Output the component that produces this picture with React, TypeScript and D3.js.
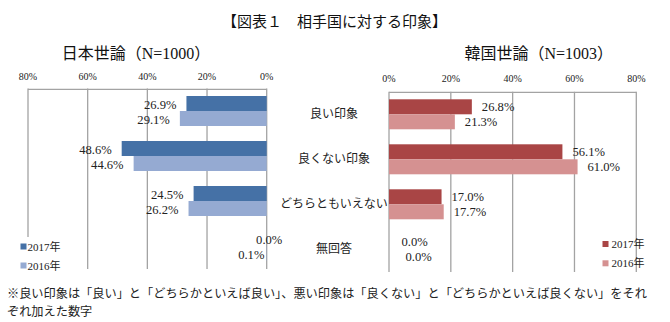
import React from "react";
import * as d3 from "d3";

const title = "【図表１　相手国に対する印象】";
const leftTitle = "日本世論（N=1000）";
const rightTitle = "韓国世論（N=1003）";
const categories = ["良い印象", "良くない印象", "どちらともいえない", "無回答"];
const japan2017 = [26.9, 48.6, 24.5, 0.0];
const japan2016 = [29.1, 44.6, 26.2, 0.1];
const korea2017 = [26.8, 56.1, 17.0, 0.0];
const korea2016 = [21.3, 61.0, 17.7, 0.0];
const tickValues = [0, 20, 40, 60, 80];
const years = ["2017年", "2016年"];
const footnote1 = "※良い印象は「良い」と「どちらかといえば良い」、悪い印象は「良くない」と「どちらかといえば良くない」をそれ";
const footnote2 = "ぞれ加えた数字";

const W = 670;
const H = 322;
const FONT = "'Liberation Serif', 'Noto Sans CJK JP', serif";
const CJK = "'Noto Sans CJK JP', sans-serif";
const GRID = "#A3A3A3";
const blue17 = "#4571A6";
const blue16 = "#95AAD2";
const red17 = "#A94545";
const red16 = "#D59191";

const fmt = (v: number) => d3.format(".1f")(v) + "%";

export default function App() {
  const xL = d3.scaleLinear().domain([0, 80]).range([266.7, 28]);
  const xR = d3.scaleLinear().domain([0, 80]).range([389, 636.3]);
  const yL = d3.scaleBand().domain(categories).range([88.5, 268.5]).paddingInner(1 / 3).paddingOuter(1 / 6);
  const yR = d3.scaleBand().domain(categories).range([91.8, 271.8]).paddingInner(1 / 3).paddingOuter(1 / 6);
  const bw = yL.bandwidth() / 2;

  const leftSeries = [
    { vals: japan2017, color: blue17 },
    { vals: japan2016, color: blue16 },
  ];
  const rightSeries = [
    { vals: korea2017, color: red17 },
    { vals: korea2016, color: red16 },
  ];

  const leftLabel = (ci: number, si: number, v: number) => {
    const end = xL(v);
    if (categories[ci] === "無回答") {
      return si === 0
        ? { x: xL(0) + 2.5, anchor: "middle" }
        : { x: end - 2, anchor: "end" };
    }
    return { x: end - 10, anchor: "end" };
  };
  const rightLabel = (ci: number, si: number, v: number) => {
    const end = xR(v);
    if (categories[ci] === "無回答") {
      return { x: end + (si === 0 ? 12.5 : 16.5), anchor: "start" };
    }
    return { x: end + 10, anchor: "start" };
  };

  return (
    <svg
      width={W}
      height={H}
      style={{ position: "absolute", left: 0, top: 0, display: "block", background: "#fff" }}
    >
      <rect x={0} y={0} width={W} height={H} fill="#fff" />
      <text x={334.5} y={20.7} textAnchor="middle" dominantBaseline="central" fontFamily={CJK} fontSize={15} fill="#111">
        {title}
      </text>
      <text x={136} y={53} textAnchor="middle" dominantBaseline="central" fontFamily={FONT} fontSize={16} fill="#111">
        {leftTitle}
      </text>
      <text x={538.7} y={53} textAnchor="middle" dominantBaseline="central" fontFamily={FONT} fontSize={16} fill="#111">
        {rightTitle}
      </text>

      {/* Left grid */}
      <g>
        {tickValues.map((t) => (
          <g key={"lt" + t}>
            <line x1={xL(t)} x2={xL(t)} y1={88.5} y2={269} stroke={GRID} strokeWidth={1.3} />
            <text x={xL(t)} y={76.7} textAnchor="middle" dominantBaseline="central" fontFamily={FONT} fontSize={10} fill="#222">
              {t + "%"}
            </text>
          </g>
        ))}
        <line x1={xL(80)} x2={xL(0)} y1={89.3} y2={89.3} stroke={GRID} strokeWidth={1.3} />
      </g>
      {/* Right grid */}
      <g>
        {tickValues.map((t) => (
          <g key={"rt" + t}>
            <line x1={xR(t)} x2={xR(t)} y1={91.8} y2={272} stroke={GRID} strokeWidth={1.3} />
            <text x={xR(t)} y={78.3} textAnchor="middle" dominantBaseline="central" fontFamily={FONT} fontSize={10} fill="#222">
              {t + "%"}
            </text>
          </g>
        ))}
        <line x1={xR(0)} x2={xR(80)} y1={92.3} y2={92.3} stroke={GRID} strokeWidth={1.3} />
      </g>

      {/* Left bars */}
      {leftSeries.map((s, si) =>
        categories.map((c, ci) => {
          const v = s.vals[ci];
          const y0 = (yL(c) as number) + si * bw;
          const lab = leftLabel(ci, si, v);
          return (
            <g key={"lb" + si + ci}>
              {v > 0 && (
                <rect x={xL(v)} y={y0} width={xL(0) - xL(v)} height={bw} fill={s.color} />
              )}
              <text x={lab.x} y={y0 + bw / 2 + 1} textAnchor={lab.anchor} dominantBaseline="central" fontFamily={FONT} fontSize={12.6} fill="#222">
                {fmt(v)}
              </text>
            </g>
          );
        })
      )}

      {/* Right bars */}
      {rightSeries.map((s, si) =>
        categories.map((c, ci) => {
          const v = s.vals[ci];
          const y0 = (yR(c) as number) + si * bw;
          const lab = rightLabel(ci, si, v);
          return (
            <g key={"rb" + si + ci}>
              {v > 0 && (
                <rect x={xR(0)} y={y0} width={xR(v) - xR(0)} height={bw} fill={s.color} />
              )}
              <text x={lab.x} y={y0 + bw / 2} textAnchor={lab.anchor} dominantBaseline="central" fontFamily={FONT} fontSize={12.6} fill="#222">
                {fmt(v)}
              </text>
            </g>
          );
        })
      )}

      {/* Category labels */}
      {categories.map((c) => (
        <text key={"cat" + c} x={334} y={(yL(c) as number) + yL.bandwidth() / 2 + 1.5} textAnchor="middle" dominantBaseline="central" fontFamily={CJK} fontSize={12} fill="#222">
          {c}
        </text>
      ))}

      {/* Left legend */}
      <rect x={17} y={237} width={50} height={34} fill="#fff" />
      {years.map((yr, i) => (
        <g key={"ll" + yr}>
          <rect x={20.5} y={243.5 + i * 19 } width={6} height={6} fill={i === 0 ? blue17 : blue16} />
          <text x={27.5} y={246.7 + i * 19} dominantBaseline="central" fontFamily={FONT} fontSize={11} fill="#222">
            {yr}
          </text>
        </g>
      ))}
      {/* Right legend */}
      {years.map((yr, i) => (
        <g key={"rl" + yr}>
          <rect x={602.5} y={241 + i * 19.3} width={6} height={6} fill={i === 0 ? red17 : red16} />
          <text x={611.5} y={244 + i * 19.3} dominantBaseline="central" fontFamily={FONT} fontSize={11} fill="#222">
            {yr}
          </text>
        </g>
      ))}

      <text x={7} y={292.7} dominantBaseline="central" fontFamily={CJK} fontSize={12.2} fill="#222">
        {footnote1}
      </text>
      <text x={7} y={310.7} dominantBaseline="central" fontFamily={CJK} fontSize={12.2} fill="#222">
        {footnote2}
      </text>
    </svg>
  );
}
